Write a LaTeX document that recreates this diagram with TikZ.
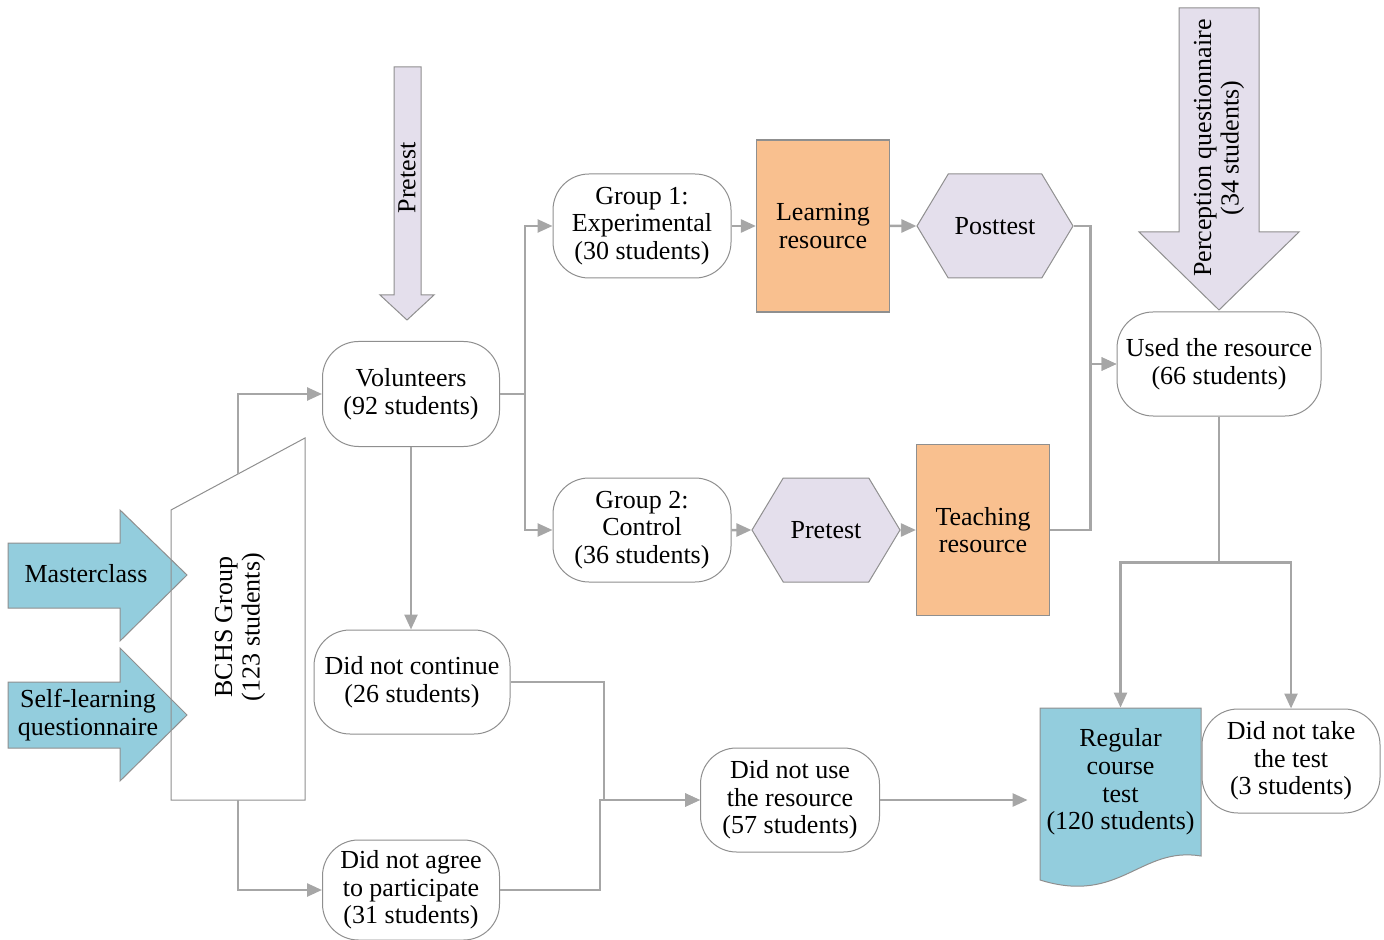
\documentclass[tikz,border=0pt]{standalone}
\usepackage{fontspec}
\setmainfont{Liberation Serif}
\usetikzlibrary{shapes.symbols,arrows.meta}

\definecolor{lineGray}{HTML}{A6A6A6}
\definecolor{edgeGray}{HTML}{8F8F8F}
\definecolor{boxBlue}{HTML}{93CDDD}
\definecolor{boxOrange}{HTML}{F9C08F}
\definecolor{boxLilac}{HTML}{E4DFEC}

\begin{document}
\begin{tikzpicture}[x=0.5pt,y=-0.5pt,
  font=\fontsize{13}{13.8}\selectfont,
  pill/.style={draw=edgeGray, line width=0.5pt, fill=white, rounded corners=18pt,
    align=center, inner sep=0pt},
  resbox/.style={draw=edgeGray, line width=0.6pt, fill=boxOrange, align=center,
    inner sep=0pt, minimum width=66.5pt},
  hexbox/.style={signal, signal to=west and east, signal pointer angle=118,
    draw=edgeGray, line width=0.5pt, fill=boxLilac, minimum height=52pt, inner sep=0pt},
  blockarrow/.style={draw=edgeGray, line width=0.5pt},
  link/.style={draw=lineGray, line width=1.25pt},
  go/.style={link, -{Triangle[length=7.5pt,width=6.5pt]}}]
\useasboundingbox (0,0) rectangle (1384,940);

% arrows coming in
\filldraw[blockarrow, fill=boxBlue] (8,543) -- (120,543) -- (120,510) -- (187,575)
  -- (120,641) -- (120,608) -- (8,608) -- cycle;
\filldraw[blockarrow, fill=boxBlue] (8,682) -- (120,682) -- (120,648) -- (187,715)
  -- (120,781) -- (120,748) -- (8,748) -- cycle;
\filldraw[blockarrow, fill=boxLilac] (394,67) -- (421,67) -- (421,295) -- (434,295)
  -- (407,320) -- (380,295) -- (394,295) -- cycle;
\filldraw[blockarrow, fill=boxLilac] (1179,8) -- (1259,8) -- (1259,232) -- (1299,232)
  -- (1219,310) -- (1139,232) -- (1179,232) -- cycle;
\node (mastertxt) at (86,574) {Masterclass};
\node[align=center] (selftxt) at (88,715) {Self-learning\\questionnaire};
\node[rotate=90] (pretesttxt) at (407,178) {Pretest};
\node[rotate=90, align=center] (perctxt) at (1219,148) {Perception questionnaire\\(34 students)};

% starting group
\draw[blockarrow] (171,510) -- (305,438) -- (305,800) -- (171,800) -- cycle;
\node[rotate=90, align=center] (bchs) at (240,627) {BCHS Group\\(123 students)};
\coordinate (bchstop) at (238,474);
\coordinate (bchsbot) at (238,800);

% boxes
\node[pill, minimum width=88.5pt, minimum height=52.5pt] (volunteers) at (411,394) {Volunteers\\(92 students)};
\node[pill, minimum width=98pt, minimum height=52pt] (notcont) at (412,682) {Did not continue\\(26 students)};
\node[pill, minimum width=88.5pt, minimum height=50pt] (notagree) at (411,890) {Did not agree\\to participate\\(31 students)};
\node[pill, minimum width=89pt, minimum height=52pt] (groupA) at (642,226) {Group 1:\\Experimental\\(30 students)};
\node[pill, minimum width=89pt, minimum height=52pt] (groupB) at (642,530) {Group 2:\\Control\\(36 students)};
\node[resbox, minimum height=86pt] (learnres) at (823,226) {Learning\\resource};
\node[hexbox, minimum width=78pt] (posttest) at (995,226) {Posttest};
\node[hexbox, minimum width=74pt] (pretest) at (826,530) {Pretest};
\node[resbox, minimum height=85.5pt] (teachres) at (983,530) {Teaching\\resource};
\node[pill, minimum width=102pt, minimum height=52pt] (used) at (1219,364) {Used the resource\\(66 students)};
\node[pill, minimum width=89.5pt, minimum height=52pt] (notuse) at (790,800) {Did not use\\the resource\\(57 students)};
\node[pill, minimum width=89pt, minimum height=52pt] (nottake) at (1291,761) {Did not take\\the test\\(3 students)};

% document shape
\filldraw[blockarrow, fill=boxBlue] (1040,708) -- (1201,708) -- (1201,856)
  .. controls (1140,846) and (1120,905) .. (1040,880) -- cycle;
\node[align=center, minimum width=80.5pt, minimum height=74pt, inner sep=0pt] (regtest) at (1120.5,782) {Regular\\course\\test\\(120 students)};

% connectors
\draw[go] (bchstop) |- (volunteers.west);
\draw[go] (bchsbot) |- (notagree.west);
\draw[go] (volunteers.south) -- (volunteers.south |- notcont.north);
\coordinate (split) at (525,394);
\draw[link] (volunteers.east) -- (split);
\draw[go] (split) |- (groupA.west);
\draw[go] (split) |- (groupB.west);
\draw[go] (groupA) -- (learnres);
\draw[go] (learnres) -- (posttest);
\draw[go] (groupB) -- (pretest);
\draw[go] (pretest) -- (teachres);
\draw[go] (posttest.east) -| ([xshift=-13pt]used.west) -- (used.west);
\draw[go] (teachres.east) -| ([xshift=-13pt]used.west) -- (used.west);
\draw[go] (used.south) -- ++(0,146) -| (regtest.north);
\draw[go] (used.south) -- ++(0,146) -| (nottake.north);
\draw[go] (notcont.east) -| ([xshift=-48pt]notuse.west) -- (notuse.west);
\draw[go] (notagree.east) -| ([xshift=-50pt]notuse.west) -- (notuse.west);
\draw[go, shorten >=6pt] (notuse.east) -- (regtest.west |- notuse.east);
\end{tikzpicture}
\end{document}
